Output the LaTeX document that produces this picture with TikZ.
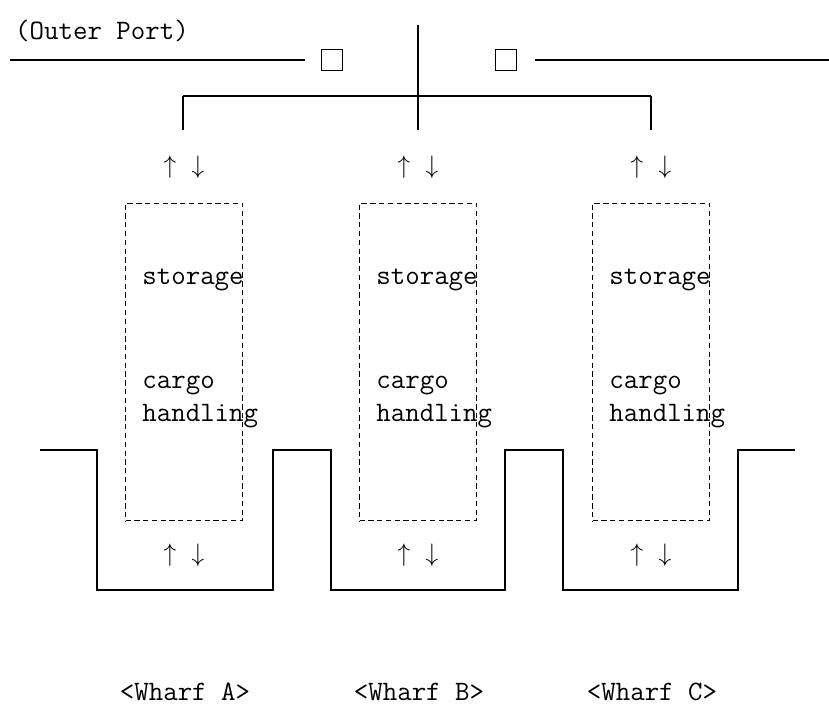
\documentclass[tikz,border=0pt]{standalone}
\usepackage{amsmath,amssymb}
\usepackage{tikz}
\usetikzlibrary{positioning}

\begin{document}
\begin{tikzpicture}[x=0.02cm, y=-0.02cm,
    font=\ttfamily\fontsize{16}{19}\selectfont,
    storebox/.style={draw, dash pattern=on 3pt off 2pt, line width=0.6pt,
      minimum width=2.34cm, minimum height=6.36cm, inner sep=0pt},
    gate/.style={draw, line width=0.7pt, minimum size=0.42cm, inner sep=0pt},
    word/.style={anchor=west, inner sep=0pt, align=left},
    quay/.style={line width=1.1pt}]
  \useasboundingbox (0,0) rectangle (829,713);
  \node (outer) at (102,31) {(Outer Port)};
  \draw[quay] (10,60) -- (305,60);
  \draw[quay] (535,60) -- (829,60);
  \node[gate] (gateL) at (332,60) {};
  \node[gate] (gateR) at (506,60) {};
  \coordinate (hubT) at (418,25);
  \coordinate (hubB) at (418,130);
  \coordinate (brA) at (183,96);
  \coordinate (brC) at (651,96);
  \draw[line width=1pt] (hubT) -- (hubB);
  \draw[line width=0.6pt] (brA) -- (brC);
  \draw[line width=1pt] (brA) -- +(0,34);
  \draw[line width=1pt] (brC) -- +(0,34);
  \foreach \w/\cx in {A/184,B/418,C/651}{
    \node (upT\w) at (\cx-14,167) {\Large$\uparrow$};
    \node (dnT\w) at (\cx+14,167) {\Large$\downarrow$};
    \node[storebox] (box\w) at (\cx,362) {};
    \node[word] (stor\w) at (\cx-42,280) {storage};
    \node[word] (cargo\w) at (\cx-42,402) {cargo\\handling};
    \node (upB\w) at (\cx-14,555) {\Large$\uparrow$};
    \node (dnB\w) at (\cx+14,555) {\Large$\downarrow$};
    \node (wharf\w) at (\cx+1,692) {<Wharf \w>};
  }
  \draw[quay] (40,450) -- (97,450) -- (97,590) -- (273,590) -- (273,450)
    -- (331,450) -- (331,590) -- (505,590) -- (505,450)
    -- (563,450) -- (563,590) -- (738,590) -- (738,450) -- (795,450);
\end{tikzpicture}
\end{document}
